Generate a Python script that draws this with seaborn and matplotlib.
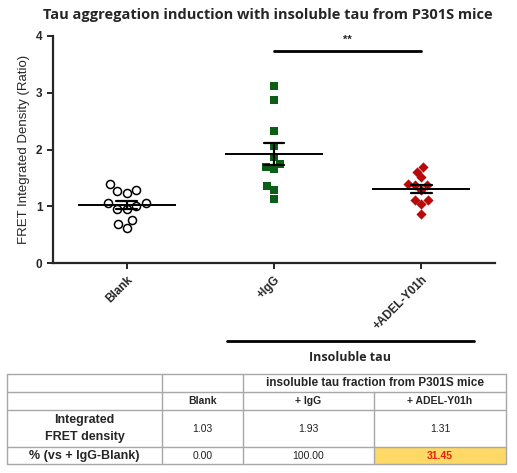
import numpy as np
import pandas as pd
import matplotlib
matplotlib.use("Agg")
import matplotlib.pyplot as plt
import seaborn as sns

# FRET integrated density values
groups = ["Blank", "+IgG", "+ADEL-Y01h"]
blank_vals = [1.28, 1.24, 1.27, 1.39, 1.06, 0.95, 0.95, 1.00, 1.05, 0.75, 0.69, 0.61]
igg_vals = [3.12, 2.87, 2.32, 2.06, 1.86, 1.75, 1.65, 1.70, 1.35, 1.28, 1.13]
adel_vals = [1.69, 1.61, 1.51, 1.39, 1.37, 1.29, 1.11, 1.04, 1.11, 0.86, 1.37]

# summary table
col_labels = ["Blank", "+ IgG", "+ ADEL-Y01h"]
row_labels = ["Integrated\nFRET density", "% (vs + IgG-Blank)"]
density_row = ["1.03", "1.93", "1.31"]
percent_row = ["0.00", "100.00", "31.45"]

df = pd.DataFrame({
    "group": ["Blank"] * len(blank_vals) + ["+IgG"] * len(igg_vals) + ["+ADEL-Y01h"] * len(adel_vals),
    "value": blank_vals + igg_vals + adel_vals,
})

sns.set_style("ticks")
plt.rcParams["font.family"] = ["Liberation Sans", "DejaVu Sans"]

fig = plt.figure(figsize=(5.17, 4.73), dpi=100)
ax = fig.add_axes([53 / 517, 1 - 263 / 473, 442 / 517, 227 / 473])

styles = {
    "Blank": dict(marker="o", color="white", edgecolor="black", linewidth=1.1, size=5.8),
    "+IgG": dict(marker="s", color="#0b5e16", linewidth=0, size=5.8),
    "+ADEL-Y01h": dict(marker="D", color="#b80a0a", linewidth=0, size=5.2),
}
for g in groups:
    sns.swarmplot(data=df[df["group"] == g], x="group", y="value", order=groups,
                  ax=ax, zorder=3, **styles[g])

# mean line + SEM
sns.pointplot(data=df, x="group", y="value", order=groups, errorbar="se",
              capsize=0.14, color="black", marker="_", markersize=70,
              markeredgewidth=1.4, linestyle="none", err_kws={"linewidth": 1.6},
              ax=ax, zorder=4)

ax.set_xlim(-0.5, 2.5)
ax.set_ylim(0, 4)
ax.set_yticks([0, 1, 2, 3, 4])
ax.set_xlabel("")
ax.set_ylabel("FRET Integrated Density (Ratio)", fontsize=9.5, labelpad=4)
sns.despine(ax=ax)
for s in ["left", "bottom"]:
    ax.spines[s].set_linewidth(1.6)
ax.tick_params(width=1.4, length=4, labelsize=8.5)
for lab in ax.get_yticklabels():
    lab.set_fontweight("bold")
ax.set_xticks(range(len(groups)))
ax.set_xticklabels(groups, rotation=45, ha="right", rotation_mode="anchor",
                   fontsize=8.5, fontweight="bold")

# significance bracket
sig_y = 3.74
ax.plot([1, 2], [sig_y, sig_y], color="black", lw=2, clip_on=False)
ax.text(1.5, sig_y + 0.1, "**", ha="center", va="bottom", fontsize=8, fontweight="bold")

fig.text(268 / 517, 1 - 15 / 473, "Tau aggregation induction with insoluble tau from P301S mice",
         ha="center", va="center", fontsize=10.5, fontweight="bold", family="Open Sans")

# overlay in pixel coords for the group bracket and table
ov = fig.add_axes([0, 0, 1, 1], zorder=-1)
ov.set_xlim(0, 517)
ov.set_ylim(473, 0)
ov.axis("off")
ov.plot([227, 474], [341, 341], color="black", lw=2)
ov.text(350, 357, "Insoluble tau", ha="center", va="center", fontsize=9,
        fontweight="bold", family="Open Sans")

xs = [7, 162, 243, 374, 506]
ys = [374, 392, 410, 447, 464]
ov.add_patch(plt.Rectangle((xs[3], ys[3]), xs[4] - xs[3], ys[4] - ys[3],
                           facecolor="#ffd966", edgecolor="none"))
lc = "#a8a8a8"
for y in ys:
    ov.plot([xs[0], xs[4]], [y, y], color=lc, lw=1)
for i, x in enumerate(xs):
    y0 = ys[1] if i == 3 else ys[0]
    ov.plot([x, x], [y0, ys[4]], color=lc, lw=1)

tfs = 7.5
ov.text((xs[2] + xs[4]) / 2, (ys[0] + ys[1]) / 2, "insoluble tau fraction from P301S mice",
        ha="center", va="center", fontsize=8.5, fontweight="bold")
for j, lab in enumerate(col_labels):
    ov.text((xs[j + 1] + xs[j + 2]) / 2, (ys[1] + ys[2]) / 2, lab,
            ha="center", va="center", fontsize=tfs, fontweight="bold")
for i, (lab, row) in enumerate([(row_labels[0], density_row), (row_labels[1], percent_row)]):
    yc = (ys[i + 2] + ys[i + 3]) / 2
    ov.text((xs[0] + xs[1]) / 2, yc, lab, ha="center", va="center", fontsize=9,
            fontweight="bold", linespacing=1.5)
    for j, v in enumerate(row):
        red = (i == 1 and j == 2)
        ov.text((xs[j + 1] + xs[j + 2]) / 2, yc, v, ha="center", va="center",
                fontsize=tfs, color="#e8200c" if red else "#222222",
                fontweight="bold" if red else "normal")

fig.savefig("out.png", dpi=100)
